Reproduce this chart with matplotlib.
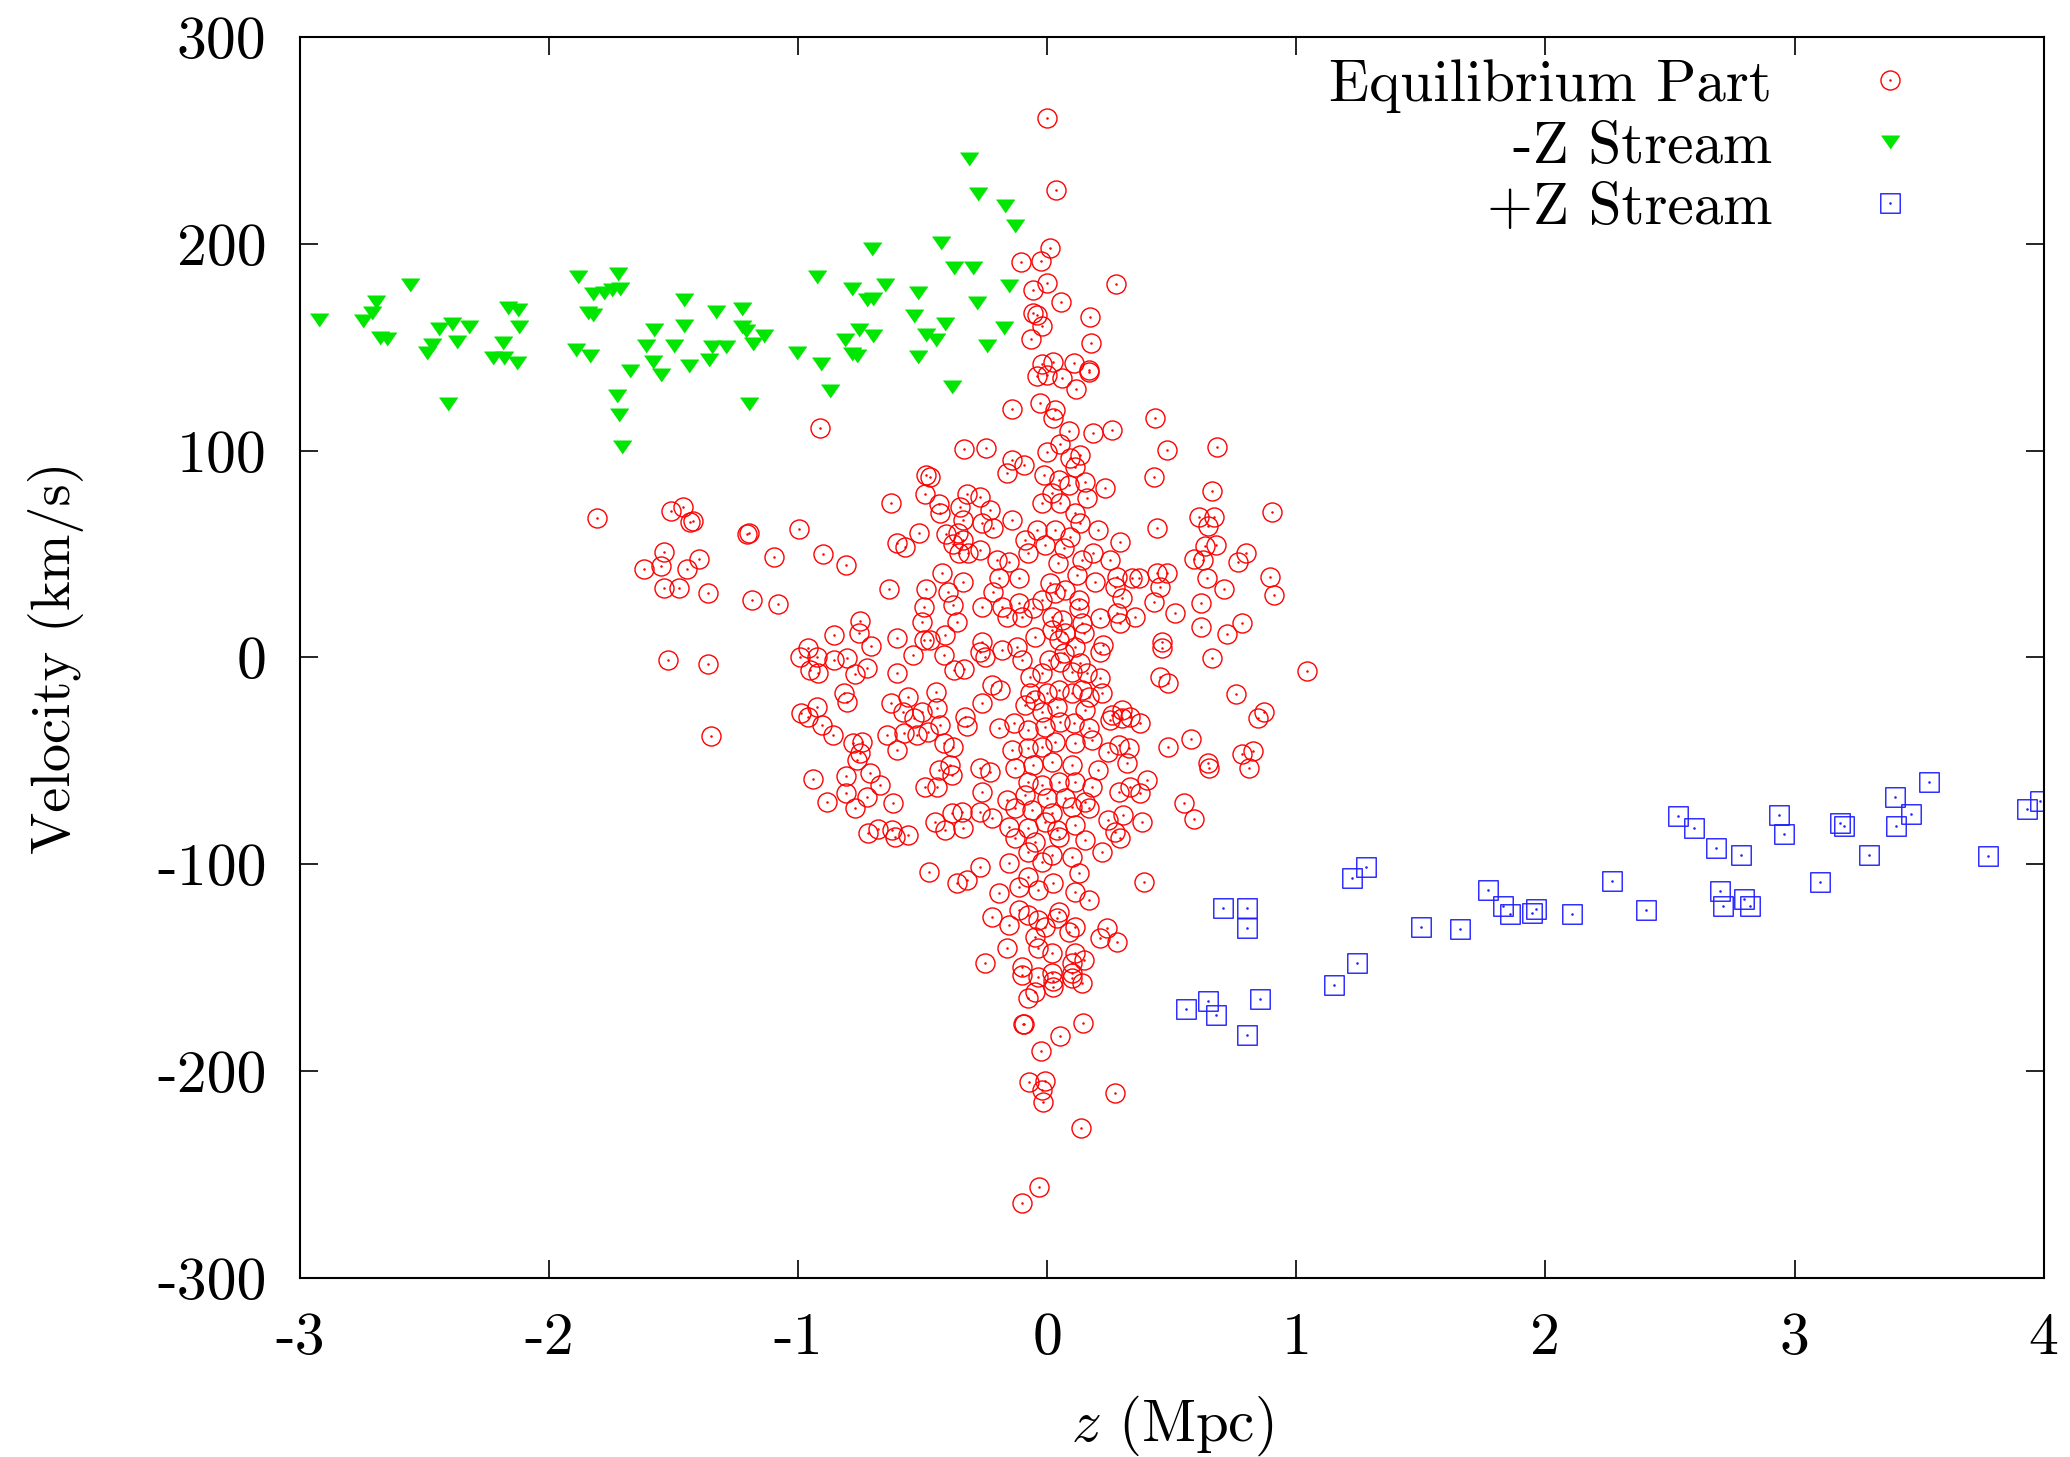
import numpy as np
import matplotlib
matplotlib.use("Agg")
import matplotlib.pyplot as plt
from matplotlib.path import Path

plt.rcParams['font.family'] = ['cmr10', 'DejaVu Serif']
plt.rcParams['mathtext.fontset'] = 'cm'
plt.rcParams['axes.unicode_minus'] = False
plt.rcParams['axes.formatter.use_mathtext'] = False

# Equilibrium part (z in Mpc, velocity in km/s)
eq_pts = [
    (-0.911, 111.1), (-0.333, 100.6), (-0.245, 101.4), (-1.805, 67.3), (-1.511, 71), (-1.460, 72.9),
    (-1.433, 65.7), (-1.422, 65.8), (-1.536, 51.2), (-1.549, 44.2), (-1.620, 42.6), (-1.444, 43),
    (-1.397, 47.5), (-1.536, 33.4), (-1.477, 33.4), (-1.362, 31.3), (-1.206, 59.7), (-1.198, 60),
    (-0.998, 62), (-1.098, 48.4), (-0.900, 50), (-0.807, 44.6), (-1.185, 27.8), (-1.081, 25.7),
    (-1.520, -1.2), (-1.362, -3.3), (-1.349, -37.9), (-0.627, 74.5), (-0.633, 33.1), (-0.487, 88.2),
    (-0.469, 87.1), (-0.490, 78.9), (-0.436, 74.2), (-0.430, 70), (-0.516, 60), (-0.603, 55.2),
    (-0.570, 53.6), (-0.407, 59.5), (-0.349, 72.6), (-0.320, 78.9), (-0.336, 66.5), (-0.356, 60),
    (-0.339, 56.8), (-0.353, 50.4), (-0.316, 50.4), (-0.376, 54.9), (-0.423, 40.7), (-0.339, 36.7),
    (-0.486, 33), (-0.396, 31.8), (-0.496, 24.6), (-0.376, 25.4), (-0.503, 17.3), (-0.363, 17.3),
    (-0.470, 8.5), (-0.496, 8.5), (-0.537, 1.2), (-0.409, 10.9), (-0.416, 1.2), (-0.372, -6),
    (-0.333, -5.7), (-0.601, 9.6), (-0.603, -7.3), (-0.958, 4.8), (-0.991, 0.4), (-0.925, 0.4),
    (-0.951, -6), (-0.918, -7.7), (-0.855, 10.9), (-0.855, -1.2), (-0.804, -0.4), (-0.753, 17.8),
    (-0.756, 11.7), (-0.708, 5.6), (-0.773, -8.1), (-0.724, -5.2), (-0.817, -17), (-0.804, -21.4),
    (-0.987, -26.7), (-0.922, -24.1), (-0.958, -28.6), (-0.905, -32.6), (-0.858, -37.5), (-0.780, -41.5),
    (-0.744, -40.7), (-0.753, -46.3), (-0.764, -49.6), (-0.710, -55.7), (-0.938, -58.7), (-0.807, -57.3),
    (-0.807, -65.4), (-0.724, -67.3), (-0.670, -61.6), (-0.884, -69.7), (-0.771, -73), (-0.617, -70.5),
    (-0.721, -84.7), (-0.680, -83.1), (-0.621, -83.4), (-0.610, -87), (-0.559, -85.8), (-0.627, -21.8),
    (-0.557, -18.9), (-0.577, -26.2), (-0.533, -29.4), (-0.503, -26.2), (-0.446, -16.5), (-0.443, -24.6),
    (-0.432, -32.6), (-0.643, -37.5), (-0.603, -44.7), (-0.574, -36.7), (-0.523, -37.5), (-0.479, -35.9),
    (-0.416, -41.5), (-0.376, -43.1), (-0.329, -28.6), (-0.322, -33.1), (-0.389, -52), (-0.383, -56.8),
    (-0.436, -54.4), (-0.489, -62.5), (-0.443, -62.5), (-0.342, -74.5), (-0.383, -75.3), (-0.450, -79.4),
    (-0.409, -83.4), (-0.336, -82.6), (-0.476, -103.5), (-0.360, -109.2), (-0.322, -107.6),
    # upper column
    (-0.001, 260.7), (0.036, 226.2), (0.012, 198.1), (-0.104, 191.4), (-0.024, 191.7), (0.000, 181.2),
    (0.277, 180.4), (-0.057, 177.5), (0.054, 172), (-0.055, 166.4), (-0.041, 165.6), (-0.021, 160.4),
    (-0.066, 153.8), (0.170, 164.8), (0.175, 151.9), (-0.021, 141.7), (0.023, 143), (0.108, 142.5),
    (0.166, 139), (0.166, 138.2), (-0.041, 136.1), (-0.001, 136.6), (0.059, 135), (0.115, 129.8),
    (-0.142, 120), (-0.028, 123.2), (0.032, 119.7), (0.025, 115.6), (0.433, 115.6), (0.086, 109.5),
    (0.183, 108.7), (0.260, 110), (0.050, 103.1), (0.483, 100.3), (0.681, 101.6), (-0.142, 95.5),
    (-0.001, 99.2), (0.092, 96.3), (0.133, 97.9),
    # core, upper half
    (-0.162, 89), (-0.091, 93), (-0.011, 88.2), (0.046, 85.8), (0.088, 83.4), (0.150, 85),
    (0.110, 92.3), (0.427, 87.4), (0.233, 81.8), (0.159, 77), (-0.021, 74.5), (0.019, 79.4),
    (0.052, 74.5), (-0.229, 71.3), (-0.269, 77.8), (-0.142, 66.5), (-0.216, 62.5), (-0.262, 64.9),
    (-0.042, 61.6), (-0.088, 56.8), (0.032, 61.6), (0.112, 69.7), (0.133, 64.9), (0.206, 61.6),
    (0.293, 56), (0.440, 62.5), (0.092, 58.4), (-0.008, 54.4), (0.066, 52.8), (0.186, 50.4),
    (0.139, 47.1), (0.253, 47.1), (-0.202, 47.1), (-0.155, 46.3), (-0.075, 50.4), (-0.269, 52),
    (0.045, 45.5), (0.119, 39.9), (-0.115, 38.3), (-0.195, 38.3), (0.193, 36.7), (0.280, 39.1),
    (0.340, 38.3), (0.367, 38.3), (0.440, 40.7), (0.481, 40.7), (0.454, 34.3), (0.273, 34.3),
    (0.300, 28.6), (0.427, 27), (0.514, 21.7), (0.353, 19.7), (0.280, 21.4), (0.293, 16.5),
    (0.213, 18.9), (0.012, 35.9), (0.032, 31), (0.072, 32.6), (-0.021, 27.8), (-0.055, 23.8),
    (0.126, 27.8), (0.126, 23.8), (-0.216, 31.8), (-0.262, 24.6), (-0.182, 24.6), (-0.162, 19.7),
    (-0.115, 26.2), (-0.102, 19.7), (0.019, 19.7), (0.059, 18.1), (0.019, 13.3), (0.072, 11.7),
    (0.139, 16.5), (0.146, 11.7), (0.046, 8.5), (-0.048, 10.1), (-0.122, 5.3), (-0.182, 3.6),
    (-0.262, 7.7), (-0.269, 2.8), (-0.249, 0.4), (0.226, 6.1), (0.213, 2.8), (0.066, 2),
    (0.112, 5.3), (0.052, -2), (0.006, -1.2), (-0.102, -1.2), (0.132, -2.8), (0.460, 7.7),
    (0.460, 4.4), (0.454, -9.3), (0.487, -12.5), (0.213, -10.1), (0.159, -7.7), (0.099, -6.9),
    (-0.021, -7.7), (-0.068, -9.3), (-0.222, -13.3), (-0.189, -15.7), (-0.262, -22.2), (-0.068, -17.3),
    (-0.048, -20.5), (-0.001, -17.3), (0.046, -15.7), (0.099, -17.3), (0.139, -15.7), (0.166, -18.9),
    (0.219, -17.3), (-0.088, -23), (0.039, -23.8), (0.153, -25.4), (0.300, -25.4), (0.260, -27.8),
    (0.333, -28.6), (-0.021, -26.2),
    # core, lower half
    (-0.195, -33.9), (-0.135, -31.8), (-0.075, -35.1), (-0.008, -33.5), (0.052, -31), (0.106, -31.8),
    (0.166, -34.3), (0.253, -30.2), (0.300, -29.4), (0.373, -31.8), (0.487, -43.1), (-0.142, -44.7),
    (-0.075, -43.9), (-0.021, -43.1), (0.032, -40.7), (0.112, -41.5), (0.179, -39.9), (0.246, -45.5),
    (0.287, -42.3), (0.327, -43.9), (0.320, -51.2), (-0.269, -53.6), (-0.229, -55.2), (-0.128, -53.6),
    (-0.055, -52), (0.019, -50.4), (0.099, -52), (0.206, -54.4), (-0.075, -60), (-0.021, -61.7),
    (0.046, -60), (0.112, -60), (0.179, -62.5), (0.400, -59.2), (0.287, -64.9), (0.333, -62.5),
    (0.373, -65.7), (-0.262, -64.9), (-0.162, -68.9), (-0.088, -66.5), (-0.001, -68.1), (0.072, -68.1),
    (0.153, -69.7), (-0.269, -74.5), (-0.222, -77.8), (-0.128, -72.9), (-0.062, -73.7), (0.019, -75.4),
    (0.099, -72.1), (0.166, -72.9), (0.246, -78.6), (0.306, -76.2), (0.380, -79.4), (-0.155, -81.8),
    (-0.075, -82.6), (-0.008, -79.4), (0.039, -83.4), (0.112, -81), (0.273, -84.2), (0.293, -87.4),
    (-0.128, -87.4), (-0.048, -89), (0.046, -86.6), (0.153, -88.2), (-0.075, -93.9), (0.019, -95.5),
    (0.099, -96.3), (0.219, -93.9), (-0.269, -101.1), (-0.155, -99.5), (-0.021, -98.7), (0.126, -104.4),
    (0.387, -108.4), (-0.075, -106), (-0.115, -110.8), (-0.035, -112.4), (0.025, -109.2), (0.112, -113.2),
    (0.166, -117.3), (-0.195, -114), (-0.115, -122.1), (-0.075, -124.5), (-0.035, -126.9), (0.046, -122.9),
    (0.039, -126.1), (-0.222, -125.3), (-0.155, -129.3), (-0.008, -130.1), (0.112, -130.1), (0.086, -132.6),
    (0.240, -131), (0.213, -135.8), (0.280, -137.4), (-0.048, -135), (-0.162, -140.6), (-0.035, -140.6),
    (0.019, -143), (0.112, -143), (0.146, -146.3), (0.099, -147.9), (-0.249, -147.9), (-0.102, -149.5),
    (0.019, -152.7), (0.099, -152.7),
    # tail
    (-0.102, -153.5), (-0.035, -154.3), (0.025, -156.4), (0.025, -159.1), (0.099, -155.1), (0.139, -157.5),
    (-0.075, -164.5), (-0.048, -161.6), (-0.098, -177.2), (-0.094, -177.4), (0.142, -176.5), (0.052, -182.8),
    (-0.024, -190.1), (-0.071, -205.4), (-0.008, -204.8), (-0.022, -209.1), (-0.015, -214.7), (0.273, -210.4),
    (0.137, -227.3), (-0.032, -255.8), (-0.099, -263.9),
    # right side
    (0.661, 80.7), (0.902, 70.5), (0.608, 68.1), (0.668, 68.1), (0.645, 63.7), (0.634, 53.9),
    (0.678, 54.4), (0.590, 47.8), (0.625, 47.1), (0.799, 50.4), (0.765, 46), (0.641, 38.3),
    (0.708, 33), (0.893, 38.8), (0.911, 30.2), (0.618, 26.5), (0.617, 14.6), (0.781, 16.8),
    (0.721, 11.4), (0.661, -0.4), (1.042, -6.5), (0.759, -17.6), (0.871, -26.2), (0.848, -29.1),
    (0.577, -39.6), (0.828, -45), (0.781, -46.7), (0.812, -53.3), (0.645, -51.2), (0.650, -53.6),
    (0.550, -70.5), (0.588, -78.2),
]
eq_z = [p[0] for p in eq_pts]
eq_v = [p[1] for p in eq_pts]

# -Z stream
minus_z = [-2.922, -2.747, -2.708, -2.693, -2.556, -2.679, -2.650, -2.440, -2.387, -2.319,
           -2.469, -2.490, -2.368, -2.163, -2.124, -2.119, -2.183, -2.226, -2.179, -2.128,
           -2.403, -1.885, -1.722, -1.823, -1.778, -1.745, -1.716, -1.842, -1.823, -1.891,
           -1.833, -1.726, -1.720, -1.706, -1.459, -1.331, -1.226, -1.580, -1.459, -1.226,
           -1.210, -1.138, -1.181, -1.609, -1.498, -1.346, -1.288, -1.584, -1.551, -1.438,
           -1.356, -1.673, -1.195, -0.922, -0.782, -0.650, -0.724, -0.700, -0.519, -0.533,
           -0.412, -0.757, -0.698, -0.811, -0.486, -0.446, -1.006, -0.782, -0.763, -0.908,
           -0.519, -0.873, -0.383, -0.704, -0.426, -0.373, -0.296, -0.154, -0.280, -0.175,
           -0.241, -0.315, -0.276, -0.169, -0.130]
minus_v = [163.4, 162.6, 166.6, 172, 180, 154.5, 154, 159, 161, 160,
           151, 147, 152.4, 169, 168, 159.7, 152, 145, 144.8, 142.4,
           122.6, 184, 185.6, 175.8, 176.3, 177.6, 178, 166.6, 165.8, 148.5,
           145.6, 126.6, 117.4, 102, 172.6, 167, 168.7, 158.5, 160.5, 159.7,
           157.7, 155.3, 151.6, 150.5, 150.5, 150.2, 150.2, 143, 136.8, 140.8,
           143.7, 138.7, 122.7, 183.9, 178, 180, 173, 173.4, 176, 165,
           161, 158.5, 155.6, 153.7, 156, 153.4, 147.3, 146.5, 146, 142,
           145.3, 129, 131, 197.6, 200.5, 188.4, 188.4, 179.5, 171.5, 159.4,
           150.5, 241, 224, 218.5, 208.5]

# +Z stream
plus_z = [0.556, 0.646, 0.676, 0.853, 0.801, 0.704, 0.801, 0.801, 1.222, 1.280,
          1.153, 1.243, 1.501, 1.658, 1.768, 1.828, 1.856, 1.946, 1.962, 2.107,
          2.268, 2.404, 2.531, 2.596, 2.683, 2.784, 2.701, 2.711, 2.798, 2.821,
          2.939, 2.957, 3.103, 3.183, 3.197, 3.298, 3.404, 3.469, 3.409, 3.538,
          3.778, 3.934, 3.985]
plus_v = [-170.1, -165.9, -173, -165, -182.5, -121.3, -121, -131, -106.6, -101.5,
          -158.3, -147.9, -130.5, -131.3, -112.6, -120, -124, -123.5, -121.6, -123.9,
          -107.9, -122.2, -76.5, -82.6, -92.3, -95.6, -112.9, -120.3, -116.9, -120.2,
          -76.3, -85.2, -108.4, -80.2, -81.6, -95.6, -67.6, -75.7, -81.3, -60,
          -96, -73.1, -69.4]

labels = ['Equilibrium Part', '-Z Stream', '+Z Stream']

# gnuplot-like markers with a centre dot
dot = Path.circle((0, 0), 0.06)
ring = Path.make_compound_path(Path.unit_circle(), dot)
box = Path.make_compound_path(
    Path([(-1, -1), (1, -1), (1, 1), (-1, 1), (-1, -1)],
         [Path.MOVETO, Path.LINETO, Path.LINETO, Path.LINETO, Path.CLOSEPOLY]), dot)
tri = [(-1, 0.72), (1, 0.72), (0, -0.72)]

fig = plt.figure(figsize=(20.7, 14.57), dpi=100)
ax = fig.add_axes([0.1448, 0.1229, 0.8425, 0.8517])

ax.plot(eq_z, eq_v, ls='none', marker=ring, ms=13.7, mfc='none', mec='#ff0000', mew=1.0, label=labels[0])
ax.plot(minus_z, minus_v, ls='none', marker=tri, ms=13.2, mfc='#00e600', mec='#00e600', mew=0.5, label=labels[1])
ax.plot(plus_z, plus_v, ls='none', marker=box, ms=14, mfc='none', mec='#1f1fff', mew=1.0, label=labels[2])

ax.set_xlim(-3, 4)
ax.set_ylim(-300, 300)
ax.set_xticks(np.arange(-3, 5, 1))
ax.set_yticks(np.arange(-300, 301, 100))
ax.set_xticklabels([str(t) for t in range(-3, 5)])
ax.set_yticklabels([str(t) for t in range(-300, 301, 100)])
ax.tick_params(direction='in', length=13, width=1.2, top=True, right=True, labelsize=43)
ax.tick_params(axis='x', pad=25)
ax.tick_params(axis='y', pad=24)
for s in ax.spines.values():
    s.set_linewidth(1.5)

ax.set_xlabel('$z$ (Mpc)', fontsize=42.5)
ax.xaxis.label.set(va='center')
ax.xaxis.set_label_coords(0.5, -0.119)
ax.set_ylabel('Velocity (km/s)', fontsize=40.5)
ax.yaxis.label.set(va='center', rotation_mode='default')
ax.yaxis.set_label_coords(-0.140, 0.5)

ax.legend(loc='upper right', bbox_to_anchor=(0.929, 0.982), frameon=False, markerfirst=False,
          fontsize=42.5, handlelength=1.0, handletextpad=1.5, labelspacing=0.13, borderpad=0,
          borderaxespad=0)

fig.savefig('out.png', dpi=100)
